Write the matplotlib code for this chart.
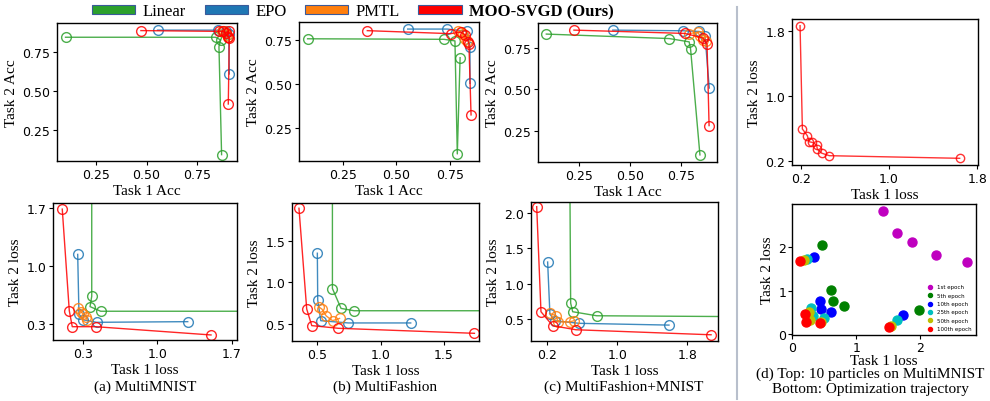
import matplotlib
matplotlib.use("Agg")
import matplotlib.pyplot as plt
from matplotlib.patches import Patch
from matplotlib.lines import Line2D

# ---------------- data ----------------
methods = ["Linear", "EPO", "PMTL", "MOO-SVGD (Ours)"]
method_colors = ["#2ca02c", "#1f77b4", "#ff7f0e", "#ff0000"]

# (a) MultiMNIST accuracy
a_acc_linear_x = [0.10, 0.84, 0.865, 0.857, 0.870]
a_acc_linear_y = [0.847, 0.847, 0.830, 0.786, 0.089]
a_acc_epo_x = [0.554, 0.850, 0.875, 0.890, 0.905, 0.908]
a_acc_epo_y = [0.893, 0.893, 0.890, 0.885, 0.870, 0.610]
a_acc_pmtl_x = [0.870, 0.880, 0.890, 0.895, 0.900]
a_acc_pmtl_y = [0.890, 0.885, 0.875, 0.860, 0.850]
a_acc_moo_x = [0.472, 0.855, 0.875, 0.890, 0.905, 0.900, 0.908, 0.903]
a_acc_moo_y = [0.890, 0.885, 0.885, 0.875, 0.890, 0.850, 0.840, 0.416]

# (b) MultiFashion accuracy
b_acc_linear_x = [0.087, 0.722, 0.773, 0.784, 0.797]
b_acc_linear_y = [0.757, 0.754, 0.745, 0.105, 0.650]
b_acc_epo_x = [0.553, 0.737, 0.828, 0.843, 0.843]
b_acc_epo_y = [0.812, 0.812, 0.800, 0.709, 0.505]
b_acc_pmtl_x = [0.788, 0.800, 0.811, 0.820, 0.830]
b_acc_pmtl_y = [0.800, 0.795, 0.785, 0.755, 0.745]
b_acc_moo_x = [0.365, 0.753, 0.800, 0.820, 0.835, 0.838, 0.848]
b_acc_moo_y = [0.803, 0.786, 0.795, 0.780, 0.740, 0.730, 0.326]

# (c) MultiFashion+MNIST accuracy
c_acc_linear_x = [0.089, 0.694, 0.792, 0.799, 0.845]
c_acc_linear_y = [0.833, 0.806, 0.786, 0.742, 0.103]
c_acc_epo_x = [0.416, 0.763, 0.842, 0.870, 0.891]
c_acc_epo_y = [0.857, 0.853, 0.849, 0.823, 0.507]
c_acc_pmtl_x = [0.790, 0.835, 0.845, 0.860, 0.875]
c_acc_pmtl_y = [0.835, 0.845, 0.820, 0.800, 0.790]
c_acc_moo_x = [0.225, 0.770, 0.860, 0.880, 0.890]
c_acc_moo_y = [0.857, 0.837, 0.810, 0.772, 0.280]

# (a) MultiMNIST loss
a_loss_linear_x = [0.385, 0.385, 0.369, 0.469, 3.0]
a_loss_linear_y = [3.0, 0.635, 0.510, 0.454, 0.454]
a_loss_epo_x = [0.253, 0.265, 0.306, 0.430, 1.287]
a_loss_epo_y = [1.142, 0.421, 0.350, 0.320, 0.328]
a_loss_pmtl_x = [0.259, 0.284, 0.306, 0.331, 0.343]
a_loss_pmtl_y = [0.494, 0.449, 0.421, 0.381, 0.349]
a_loss_moo_x = [0.108, 0.174, 0.202, 0.422, 1.506]
a_loss_moo_y = [1.690, 0.461, 0.267, 0.267, 0.167]

# (b) MultiFashion loss
b_loss_linear_x = [0.619, 0.619, 0.687, 0.790, 3.0]
b_loss_linear_y = [3.0, 0.928, 0.690, 0.662, 0.662]
b_loss_epo_x = [0.500, 0.503, 0.527, 0.745, 1.237]
b_loss_epo_y = [1.350, 0.790, 0.543, 0.516, 0.516]
b_loss_pmtl_x = [0.510, 0.537, 0.570, 0.620, 0.675]
b_loss_pmtl_y = [0.710, 0.680, 0.600, 0.543, 0.570]
b_loss_moo_x = [0.355, 0.416, 0.456, 0.666, 1.740]
b_loss_moo_y = [1.888, 0.683, 0.484, 0.452, 0.392]

# (c) MultiFashion+MNIST loss
c_loss_linear_x = [0.450, 0.467, 0.490, 0.764, 3.0]
c_loss_linear_y = [4.0, 0.726, 0.604, 0.547, 0.530]
c_loss_epo_x = [0.204, 0.230, 0.288, 0.566, 1.590]
c_loss_epo_y = [1.307, 0.570, 0.476, 0.440, 0.415]
c_loss_pmtl_x = [0.227, 0.304, 0.320, 0.457, 0.503]
c_loss_pmtl_y = [0.580, 0.547, 0.460, 0.460, 0.476]
c_loss_moo_x = [0.079, 0.128, 0.262, 0.528, 2.071]
c_loss_moo_y = [2.090, 0.604, 0.406, 0.349, 0.278]

# (d) top: 10 particles on MultiMNIST
d_particles_x = [0.194, 0.215, 0.260, 0.275, 0.305, 0.345, 0.350, 0.390, 0.459, 1.640]
d_particles_y = [1.861, 0.596, 0.514, 0.440, 0.432, 0.400, 0.350, 0.300, 0.269, 0.237]

# (d) bottom: optimization trajectory
epochs = ["1st epoch", "5th epoch", "10th epoch", "25th epoch", "50th epoch", "100th epoch"]
epoch_colors = ["m", "g", "b", "c", "y", "r"]
traj_x = [
    [1.417, 1.635, 1.879, 2.248, 2.736],
    [0.467, 0.607, 0.638, 0.804, 1.988],
    [0.337, 0.430, 0.450, 0.612, 1.729],
    [0.233, 0.300, 0.327, 0.493, 1.635],
    [0.181, 0.259, 0.285, 0.456, 1.547],
    [0.129, 0.196, 0.223, 0.430, 1.516],
]
traj_y = [
    [2.85, 2.33, 2.12, 1.83, 1.655],
    [2.055, 1.023, 0.762, 0.654, 0.554],
    [1.786, 0.770, 0.577, 0.500, 0.439],
    [1.730, 0.600, 0.408, 0.362, 0.323],
    [1.709, 0.500, 0.323, 0.284, 0.192],
    [1.693, 0.462, 0.270, 0.262, 0.169],
]

acc_ticks = [0.25, 0.50, 0.75]
acc_ticklabels = ["0.25", "0.50", "0.75"]
captions = ["(a) MultiMNIST", "(b) MultiFashion", "(c) MultiFashion+MNIST"]
caption_d = "(d) Top: 10 particles on MultiMNIST\nBottom: Optimization trajectory"

# ---------------- figure ----------------
W, H = 990, 402
fig = plt.figure(figsize=(W / 100, H / 100), dpi=100)
SERIF = "Liberation Serif"
LBL = 11


def add_ax(l, r, t, b):
    return fig.add_axes([l / W, 1 - b / H, (r - l) / W, (b - t) / H])


def style(ax, xlabel, ylabel, xpad=2, tpad=2):
    ax.set_xlabel(xlabel, family=SERIF, fontsize=LBL, labelpad=xpad)
    ax.set_ylabel(ylabel, family=SERIF, fontsize=LBL, labelpad=3)
    ax.tick_params(labelsize=9, length=3, width=0.8, pad=tpad)
    for s in ax.spines.values():
        s.set_linewidth(1.0)


def draw(ax, xs, ys):
    for (x, y), c in zip(zip(xs, ys), method_colors):
        ax.plot(x, y, color=c, lw=1.0, marker="o", ms=7, mfc="none",
                mew=1.0, alpha=0.85)


# top accuracy row
acc_sets = [
    ((57, 237, 24, 162), (0.058, 0.946), (0.048, 0.939),
     [a_acc_linear_x, a_acc_epo_x, a_acc_pmtl_x, a_acc_moo_x],
     [a_acc_linear_y, a_acc_epo_y, a_acc_pmtl_y, a_acc_moo_y]),
    ((299, 479, 23, 162), (0.047, 0.885), (0.065, 0.852),
     [b_acc_linear_x, b_acc_epo_x, b_acc_pmtl_x, b_acc_moo_x],
     [b_acc_linear_y, b_acc_epo_y, b_acc_pmtl_y, b_acc_moo_y]),
    ((538, 717, 24, 163), (0.048, 0.929), (0.060, 0.900),
     [c_acc_linear_x, c_acc_epo_x, c_acc_pmtl_x, c_acc_moo_x],
     [c_acc_linear_y, c_acc_epo_y, c_acc_pmtl_y, c_acc_moo_y]),
]
for pos, xl, yl, xs, ys in acc_sets:
    ax = add_ax(*pos)
    draw(ax, xs, ys)
    ax.set_xlim(*xl)
    ax.set_ylim(*yl)
    ax.set_xticks(acc_ticks, acc_ticklabels)
    ax.set_yticks(acc_ticks, acc_ticklabels)
    style(ax, "Task 1 Acc", "Task 2 Acc")

# bottom loss row
loss_sets = [
    ((53, 237, 204, 341), (0.021, 1.75), (0.106, 1.764),
     [0.3, 1.0, 1.7], ["0.3", "1.0", "1.7"], [0.3, 1.0, 1.7], ["0.3", "1.0", "1.7"],
     [a_loss_linear_x, a_loss_epo_x, a_loss_pmtl_x, a_loss_moo_x],
     [a_loss_linear_y, a_loss_epo_y, a_loss_pmtl_y, a_loss_moo_y]),
    ((292, 479, 204, 342), (0.30, 1.776), (0.30, 1.951),
     [0.5, 1.0, 1.5], ["0.5", "1.0", "1.5"], [0.5, 1.0, 1.5], ["0.5", "1.0", "1.5"],
     [b_loss_linear_x, b_loss_epo_x, b_loss_pmtl_x, b_loss_moo_x],
     [b_loss_linear_y, b_loss_epo_y, b_loss_pmtl_y, b_loss_moo_y]),
    ((531, 718, 203, 342), (0.014, 2.15), (0.19, 2.156),
     [0.2, 1.0, 1.8], ["0.2", "1.0", "1.8"], [0.5, 1.0, 1.5, 2.0], ["0.5", "1.0", "1.5", "2.0"],
     [c_loss_linear_x, c_loss_epo_x, c_loss_pmtl_x, c_loss_moo_x],
     [c_loss_linear_y, c_loss_epo_y, c_loss_pmtl_y, c_loss_moo_y]),
]
for pos, xl, yl, xt, xtl, yt, ytl, xs, ys in loss_sets:
    ax = add_ax(*pos)
    draw(ax, xs, ys)
    ax.set_xlim(*xl)
    ax.set_ylim(*yl)
    ax.set_xticks(xt, xtl)
    ax.set_yticks(yt, ytl)
    style(ax, "Task 1 loss", "Task 2 loss")

# captions
for cap, cx in zip(captions, [145, 385, 624]):
    fig.text(cx / W, 1 - 387 / H, cap, family=SERIF, fontsize=LBL,
             ha="center", va="center")
fig.text(870 / W, 1 - 368 / H, caption_d, family=SERIF, fontsize=LBL,
         ha="center", va="top", linespacing=1.15)

# (d) top
axd = add_ax(792, 978, 20, 166)
axd.plot(d_particles_x, d_particles_y, color="#ff0000", lw=1.0, marker="o",
         ms=6, mfc="none", mew=1.0, alpha=0.8)
axd.set_xlim(0.121, 1.806)
axd.set_ylim(0.155, 1.943)
axd.set_xticks([0.2, 1.0, 1.8], ["0.2", "1.0", "1.8"])
axd.set_yticks([0.2, 1.0, 1.8], ["0.2", "1.0", "1.8"])
style(axd, "Task 1 loss", "Task 2 loss")

# (d) bottom
axt = add_ax(792, 976, 205, 336)
for x, y, c, lab in zip(traj_x, traj_y, epoch_colors, epochs):
    axt.scatter(x, y, color=c, s=42, label=lab, zorder=3)
axt.set_xlim(0.0, 2.87)
axt.set_ylim(-0.02, 3.0)
axt.set_xticks([0, 1, 2], ["0", "1", "2"])
axt.set_yticks([0, 1, 2], ["0", "1", "2"])
style(axt, "Task 1 loss", "Task 2 loss", xpad=0, tpad=1)
axt.legend(loc="lower right", fontsize=4, frameon=False, markerscale=0.45,
           handletextpad=0.3, labelspacing=0.6, borderaxespad=0.3)

# legend
handles = [Patch(facecolor=c, edgecolor="#3a5a9a", linewidth=0.8)
           for c in method_colors]
leg = fig.legend(handles, methods, loc="center", bbox_to_anchor=(353 / W, 1 - 12 / H),
                 ncol=4, frameon=False, prop={"family": SERIF, "size": 12},
                 handlelength=2.6, handleheight=0.45, handletextpad=0.45,
                 columnspacing=1.1, borderpad=0.1)
for t in leg.get_texts():
    if t.get_text().startswith("MOO"):
        t.set_fontweight("bold")

# separator
fig.add_artist(Line2D([737 / W, 737 / W], [1 - 8 / H, 1 - 400 / H],
                      color="#b8bfcc", lw=1.5, transform=fig.transFigure))

fig.savefig("out.png", dpi=100)
